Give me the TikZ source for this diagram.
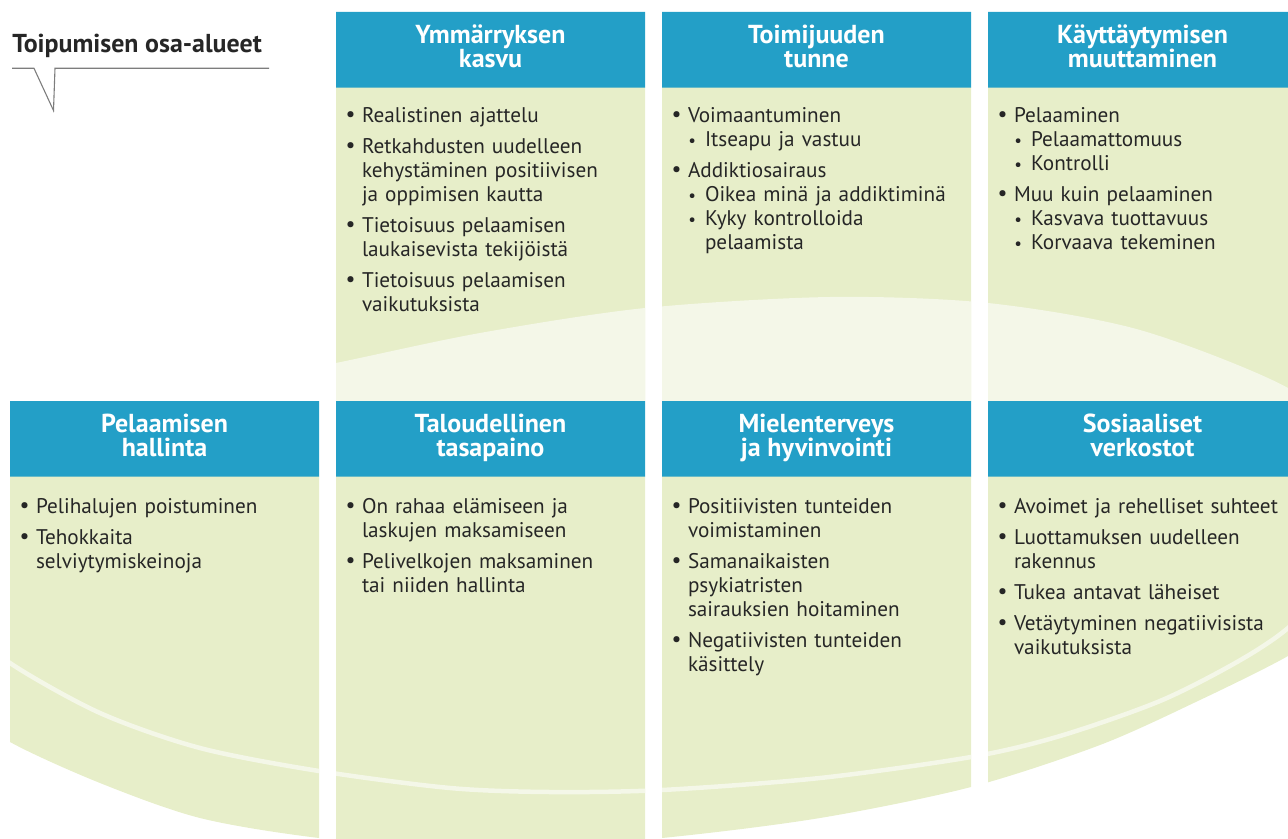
\documentclass[tikz,border=0pt]{standalone}
\usepackage{fontspec}
\setmainfont{PT Sans}
\definecolor{hdrblue}{RGB}{35,159,199}
\definecolor{leaf}{RGB}{231,238,201}
\definecolor{paleleaf}{RGB}{244,247,232}
\definecolor{ink}{RGB}{38,38,38}
\definecolor{rulegray}{RGB}{125,125,125}

% heading font: fixed line distance whatever the letters
\newcommand\hdrfont{\bfseries\fontsize{13}{12}\selectfont\lineskiplimit=-20pt\relax}
% bullets for first and second level items
\newcommand\bul{\raisebox{0.5pt}{\fontsize{11}{11}\selectfont\textbullet}}
\newcommand\sbul{{\fontsize{8.5}{8.5}\selectfont\textbullet}}
% main item, main item after a gap, sub item (lines broken with \newline)
\newcommand\mi[1]{\par\noindent\hangindent=12.8pt\hangafter=1%
  \makebox[12.8pt][l]{\hspace{4.6pt}\bul\strut}#1\par}
\newcommand\mig[1]{\par\vspace{3.5pt}\mi{#1}}
\newcommand\si[1]{\par\noindent\hangindent=21.3pt\hangafter=1%
  \makebox[21.3pt][l]{\hspace{13pt}\sbul\strut}#1\par}

\begin{document}
\begin{tikzpicture}[x=0.5pt,y=-0.5pt,
  hdrtext/.style={text=white, align=center, inner sep=0pt, font=\hdrfont},
  bodytext/.style={anchor=north west, inner sep=0pt, text width=152pt,
    text=ink, font=\fontsize{10.6}{12}\selectfont},
  headband/.style={fill=hdrblue}]
\useasboundingbox (0,0) rectangle (1288,839);
\clip (0,0) rectangle (1288,839);

% ---- upper row: leaf bodies with the pale top face of the disc ----
\fill[leaf] (336,87) rectangle (645,401) (662,87) rectangle (971,401) (988,87) rectangle (1297,401);
\begin{scope}
  \clip (336,87) rectangle (645,401) (662,87) rectangle (971,401) (988,87) rectangle (1297,401);
  \fill[paleleaf] plot[smooth cycle] coordinates {(-50,530) (-30,482) (10,452) (80,422) (200,390) (336,363) (480,333) (645,308) (830,297) (988,303) (1140,330) (1288,388) (1335,440) (1352,510) (1330,582) (1288,628) (1237,662) (1160,701) (1060,736) (971,757) (820,778) (662,790) (550,792) (450,788) (319,771) (200,748) (100,713) (10,663) (-25,628) (-45,580)};
\end{scope}

% ---- lower row: leaf bodies cut by the lower edge of the disc ----
\begin{scope}
  \clip (10,476) rectangle (319,860) (336,476) rectangle (645,860) (662,476) rectangle (971,860) (988,476) rectangle (1297,860);
  \clip plot[smooth] coordinates {(-50,700) (10,742) (100,783) (200,818) (319,838) (480,852) (662,838) (820,818) (971,787) (1100,745) (1200,700) (1288,656) (1340,620)} -- (1340,380) -- (-50,380) -- cycle;
  \fill[leaf] (0,476) rectangle (1300,860);
  \draw[paleleaf, line width=2.25pt] plot[smooth cycle] coordinates {(-50,530) (-30,482) (10,452) (80,422) (200,390) (336,363) (480,333) (645,308) (830,297) (988,303) (1140,330) (1288,388) (1335,440) (1352,510) (1330,582) (1288,628) (1237,662) (1160,701) (1060,736) (971,757) (820,778) (662,790) (550,792) (450,788) (319,771) (200,748) (100,713) (10,663) (-25,628) (-45,580)};
\end{scope}

% ---- header bands ----
\fill[headband] (336,12) rectangle (645,87.7) (662,12) rectangle (971,87.7) (988,12) rectangle (1297,87.7);
\fill[headband] (10,401) rectangle (319,476.7) (336,401) rectangle (645,476.7) (662,401) rectangle (971,476.7) (988,401) rectangle (1297,476.7);

% ---- title with callout rule ----
\node[anchor=base west, inner sep=0pt, text=ink, font=\bfseries\fontsize{12.95}{14}\selectfont] (title) at (12,52.7) {Toipumisen osa-alueet};
\draw[rulegray, line width=0.55pt] (12,68.3) -- (34,68.3) -- (53.5,110.5) -- (55,68.3) -- (269,68.3);

% ---- headings ----
\node[hdrtext] (hym) at (490.5,49.85) {\strut Ymmärryksen\\\strut kasvu};
\node[hdrtext] (hto) at (816.5,49.85) {\strut Toimijuuden\\\strut tunne};
\node[hdrtext] (hka) at (1142.5,49.85) {\strut Käyttäytymisen\\\strut muuttaminen};
\node[hdrtext] (hpe) at (164.5,438.85) {\strut Pelaamisen\\\strut hallinta};
\node[hdrtext] (hta) at (490.5,438.85) {\strut Taloudellinen\\\strut tasapaino};
\node[hdrtext] (hmi) at (816.5,438.85) {\strut Mielenterveys\\\strut ja hyvinvointi};
\node[hdrtext] (hso) at (1142.5,438.85) {\strut Sosiaaliset\\\strut verkostot};

% ---- item lists ----
\node[bodytext] (bym) at (336,98) {%
  \mi{Realistinen ajattelu}%
  \mig{Retkahdusten uudelleen\newline kehystäminen positiivisen\newline ja oppimisen kautta}%
  \mig{Tietoisuus pelaamisen\newline laukaisevista tekijöistä}%
  \mig{Tietoisuus pelaamisen\newline vaikutuksista}};
\node[bodytext] (bto) at (662,98) {%
  \mi{Voimaantuminen}%
  \si{Itseapu ja vastuu}%
  \mig{Addiktiosairaus}%
  \si{Oikea minä ja addiktiminä}%
  \si{Kyky kontrolloida\newline pelaamista}};
\node[bodytext] (bka) at (988,98) {%
  \mi{Pelaaminen}%
  \si{Pelaamattomuus}%
  \si{Kontrolli}%
  \mig{Muu kuin pelaaminen}%
  \si{Kasvava tuottavuus}%
  \si{Korvaava tekeminen}};
\node[bodytext] (bpe) at (10,489) {%
  \mi{Pelihalujen poistuminen}%
  \mig{Tehokkaita\newline selviytymiskeinoja}};
\node[bodytext] (bta) at (336,489) {%
  \mi{On rahaa elämiseen ja\newline laskujen maksamiseen}%
  \mig{Pelivelkojen maksaminen\newline tai niiden hallinta}};
\node[bodytext] (bmi) at (662,489) {%
  \mi{Positiivisten tunteiden\newline voimistaminen}%
  \mig{Samanaikaisten\newline psykiatristen\newline sairauksien hoitaminen}%
  \mig{Negatiivisten tunteiden\newline käsittely}};
\node[bodytext] (bso) at (988,489) {%
  \mi{Avoimet ja rehelliset suhteet}%
  \mig{Luottamuksen uudelleen\newline rakennus}%
  \mig{Tukea antavat läheiset}%
  \mig{Vetäytyminen negatiivisista\newline vaikutuksista}};
\end{tikzpicture}
\end{document}
